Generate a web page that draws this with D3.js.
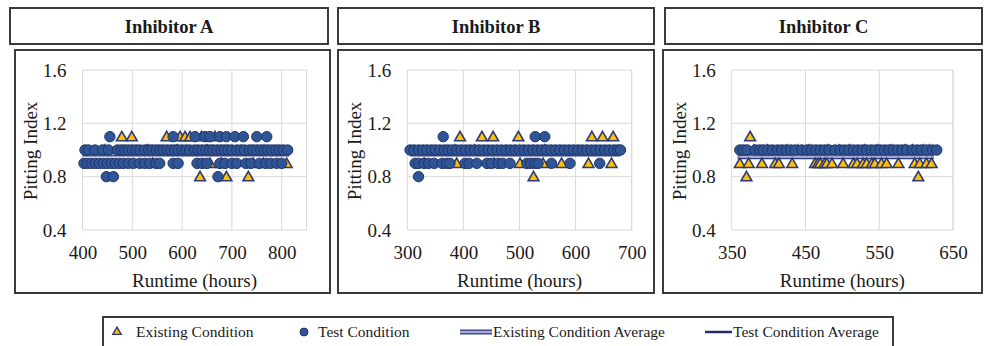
<!DOCTYPE html>
<html>
<head>
<meta charset="utf-8">
<script src="https://cdn.jsdelivr.net/npm/d3@7"></script>
<style>
  body { margin: 0; background: #fff; }
  text { font-family: 'Liberation Serif', 'Times New Roman', serif; fill: #1a1a1a; }
</style>
</head>
<body>
<svg width="990" height="346"></svg>
<script>
// ---- data ----
const titles = ['Inhibitor A', 'Inhibitor B', 'Inhibitor C'];
const yTicks = [0.4, 0.8, 1.2, 1.6];
const xTicksA = [400, 500, 600, 700, 800];
const xTicksB = [300, 400, 500, 600, 700];
const xTicksC = [350, 450, 550, 650];

// [runtime, pitting index]
const existingA = [
  [479,1.1],[499,1.1],[569,1.1],[596,1.1],[606,1.1],[616,1.1],[639,1.1],[666,1.1],
  [445,1.0],[530,1.0],[590,1.0],[650,1.0],
  [541,0.9],[656,0.9],[679,0.9],[743,0.9],[763,0.9],[810,0.9],
  [636,0.8],[689,0.8],[733,0.8]
];
const testA = [
  [455,1.1],[582,1.1],[626,1.1],[646,1.1],[656,1.1],[676,1.1],[689,1.1],[706,1.1],[723,1.1],[750,1.1],[770,1.1],
  [405,1.0],[412,1.0],[425,1.0],[440,1.0],[452,1.0],[470,1.0],[478,1.0],[485,1.0],[492,1.0],[500,1.0],
  [508,1.0],[515,1.0],[525,1.0],[533,1.0],[540,1.0],[548,1.0],[555,1.0],[562,1.0],[570,1.0],[578,1.0],
  [585,1.0],[592,1.0],[600,1.0],[608,1.0],[615,1.0],[625,1.0],[632,1.0],[640,1.0],[648,1.0],[655,1.0],
  [662,1.0],[670,1.0],[678,1.0],[685,1.0],[692,1.0],[700,1.0],[710,1.0],[718,1.0],[725,1.0],[735,1.0],
  [742,1.0],[750,1.0],[758,1.0],[765,1.0],[772,1.0],[780,1.0],[788,1.0],[795,1.0],[803,1.0],[812,1.0],
  [403,0.9],[410,0.9],[418,0.9],[426,0.9],[434,0.9],[442,0.9],[450,0.9],[458,0.9],[466,0.9],[474,0.9],
  [482,0.9],[492,0.9],[502,0.9],[515,0.9],[525,0.9],[535,0.9],[548,0.9],[555,0.9],[582,0.9],[592,0.9],
  [630,0.9],[640,0.9],[650,0.9],[676,0.9],[686,0.9],[700,0.9],[710,0.9],[728,0.9],[738,0.9],[755,0.9],
  [768,0.9],[778,0.9],[790,0.9],[800,0.9],
  [448,0.8],[462,0.8],[672,0.8]
];
const existingB = [
  [394,1.1],[433,1.1],[453,1.1],[498,1.1],[629,1.1],[648,1.1],[667,1.1],
  [385,1.0],[420,1.0],[545,1.0],
  [330,0.9],[388,0.9],[455,0.9],[501,0.9],[542,0.9],[575,0.9],[623,0.9],[664,0.9],
  [525,0.8]
];
const testB = [
  [364,1.1],[528,1.1],[545,1.1],
  [305,1.0],[312,1.0],[320,1.0],[328,1.0],[335,1.0],[343,1.0],[350,1.0],[358,1.0],[366,1.0],[373,1.0],
  [380,1.0],[388,1.0],[396,1.0],[404,1.0],[412,1.0],[420,1.0],[428,1.0],[436,1.0],[444,1.0],[452,1.0],
  [460,1.0],[468,1.0],[476,1.0],[484,1.0],[492,1.0],[500,1.0],[508,1.0],[516,1.0],[524,1.0],[532,1.0],
  [540,1.0],[548,1.0],[556,1.0],[564,1.0],[572,1.0],[580,1.0],[588,1.0],[596,1.0],[604,1.0],[612,1.0],
  [620,1.0],[628,1.0],[636,1.0],[644,1.0],[652,1.0],[660,1.0],[668,1.0],[675,1.0],[680,1.0],
  [314,0.9],[320,0.9],[330,0.9],[338,0.9],[348,0.9],[362,0.9],[370,0.9],[376,0.9],[403,0.9],[410,0.9],
  [424,0.9],[442,0.9],[450,0.9],[462,0.9],[470,0.9],[483,0.9],[513,0.9],[520,0.9],[527,0.9],[533,0.9],
  [557,0.9],[590,0.9],[643,0.9],
  [320,0.8]
];
const existingC = [
  [375,1.1],
  [380,1.0],[398,1.0],[425,1.0],[440,1.0],[455,1.0],[480,1.0],[495,1.0],[510,1.0],[530,1.0],
  [548,1.0],[566,1.0],[585,1.0],[595,1.0],[610,1.0],[618,1.0],
  [361,0.9],[373,0.9],[391,0.9],[409,0.9],[414,0.9],[432,0.9],[463,0.9],[467,0.9],[470,0.9],[476,0.9],
  [479,0.9],[486,0.9],[501,0.9],[515,0.9],[520,0.9],[528,0.9],[533,0.9],[540,0.9],[544,0.9],[553,0.9],
  [560,0.9],[576,0.9],[598,0.9],[605,0.9],[614,0.9],[621,0.9],
  [370,0.8],[603,0.8]
];
const testC = [
  [361,1.0],[366,1.0],[371,1.0],[382,1.0],[388,1.0],[393,1.0],[399,1.0],[405,1.0],[412,1.0],[418,1.0],
  [424,1.0],[430,1.0],[436,1.0],[445,1.0],[452,1.0],[458,1.0],[464,1.0],[470,1.0],[476,1.0],[482,1.0],
  [490,1.0],[497,1.0],[503,1.0],[509,1.0],[515,1.0],[521,1.0],[527,1.0],[533,1.0],[539,1.0],[545,1.0],
  [551,1.0],[557,1.0],[563,1.0],[569,1.0],[575,1.0],[581,1.0],[587,1.0],[595,1.0],[601,1.0],[607,1.0],
  [614,1.0],[622,1.0],[628,1.0]
];
// averages: [value, runtime start, runtime end]
const existingAvg = [[0.97, 400, 815], [0.97, 305, 680], [0.95, 358, 624]];
const testAvg = [[0.98, 400, 815], [0.99, 305, 680], [1.0, 361, 628]];
const legendLabels = ['Existing Condition', 'Test Condition', 'Existing Condition Average', 'Test Condition Average'];

// ---- layout ----
const svg = d3.select('svg');
const col = {
  circle: '#2f5597', circleStroke: '#1f3468',
  tri: '#ffc000', triStroke: '#2e3a78',
  exAvg: '#a3a8d6', exAvgEdge: '#2e3a78', testAvg: '#1f2f66',
  grid: '#d9d9d9', frame: '#3a3a3a'
};
const panels = [
  { title: titles[0], tbox: [10, 8, 318, 36], cbox: [15, 50, 315, 243], plot: [82.5, 306.6], domain: [400, 850], ticks: xTicksA, ex: existingA, te: testA },
  { title: titles[1], tbox: [338, 8, 316, 36], cbox: [338, 50, 316, 243], plot: [407.3, 631.7], domain: [300, 700], ticks: xTicksB, ex: existingB, te: testB },
  { title: titles[2], tbox: [665, 8, 317, 36], cbox: [663, 50, 319, 243], plot: [731.7, 953], domain: [350, 650], ticks: xTicksC, ex: existingC, te: testC }
];
const yTop = 70, yBottom = 230;
const fs = '19px';
const tri = d3.symbol().type(d3.symbolTriangle).size(50);

panels.forEach((p, i) => {
  svg.append('rect').attr('x', p.tbox[0]).attr('y', p.tbox[1]).attr('width', p.tbox[2]).attr('height', p.tbox[3])
    .attr('fill', '#fff').attr('stroke', col.frame).attr('stroke-width', 2);
  svg.append('text').attr('x', p.tbox[0] + p.tbox[2] / 2).attr('y', p.tbox[1] + 25)
    .attr('text-anchor', 'middle').style('font-weight', 'bold').style('font-size', '18.5px').text(p.title);
  svg.append('rect').attr('x', p.cbox[0]).attr('y', p.cbox[1]).attr('width', p.cbox[2]).attr('height', p.cbox[3])
    .attr('fill', '#fff').attr('stroke', col.frame).attr('stroke-width', 2);

  const x = d3.scaleLinear().domain(p.domain).range(p.plot);
  const y = d3.scaleLinear().domain([0.4, 1.6]).range([yBottom, yTop]);
  const g = svg.append('g');

  // grid
  g.selectAll('.vg').data(p.ticks.concat([p.domain[1]])).enter().append('line')
    .attr('x1', d => x(d)).attr('x2', d => x(d)).attr('y1', yTop).attr('y2', yBottom)
    .attr('stroke', col.grid).attr('stroke-width', 1);
  g.selectAll('.hg').data(yTicks).enter().append('line')
    .attr('x1', p.plot[0]).attr('x2', p.plot[1]).attr('y1', d => y(d)).attr('y2', d => y(d))
    .attr('stroke', col.grid).attr('stroke-width', 1);

  // axes
  const xAxis = g.append('g').attr('transform', `translate(0,${yBottom})`)
    .call(d3.axisBottom(x).tickValues(p.ticks).tickSize(0).tickPadding(16).tickFormat(d3.format('d')));
  xAxis.select('.domain').remove();
  xAxis.selectAll('text').style('font-size', fs).attr('fill', '#1a1a1a');
  const yAxis = g.append('g').attr('transform', `translate(${p.plot[0]},0)`)
    .call(d3.axisLeft(y).tickValues(yTicks).tickSize(0).tickPadding(16).tickFormat(d3.format('.1f')));
  yAxis.select('.domain').remove();
  yAxis.selectAll('text').style('font-size', fs).attr('fill', '#1a1a1a');

  svg.append('text').attr('x', (p.plot[0] + p.plot[1]) / 2).attr('y', 287)
    .attr('text-anchor', 'middle').style('font-size', fs).text('Runtime (hours)');
  svg.append('text').attr('transform', `translate(${p.plot[0] - 46},151) rotate(-90)`)
    .attr('text-anchor', 'middle').style('font-size', fs).text('Pitting Index');

  // averages (under the markers)
  const ea = existingAvg[i], ta = testAvg[i];
  g.append('line').attr('x1', x(ea[1])).attr('x2', x(ea[2])).attr('y1', y(ea[0])).attr('y2', y(ea[0]))
    .attr('stroke', col.exAvgEdge).attr('stroke-width', 5);
  g.append('line').attr('x1', x(ea[1])).attr('x2', x(ea[2])).attr('y1', y(ea[0])).attr('y2', y(ea[0]))
    .attr('stroke', col.exAvg).attr('stroke-width', 2.5);
  g.append('line').attr('x1', x(ta[1])).attr('x2', x(ta[2])).attr('y1', y(ta[0])).attr('y2', y(ta[0]))
    .attr('stroke', col.testAvg).attr('stroke-width', 2.5);

  // points
  g.selectAll('.tri').data(p.ex).enter().append('path')
    .attr('d', tri).attr('transform', d => `translate(${x(d[0])},${y(d[1]) + 1})`)
    .attr('fill', col.tri).attr('stroke', col.triStroke).attr('stroke-width', 1.6);
  g.selectAll('.dot').data(p.te).enter().append('circle')
    .attr('cx', d => x(d[0])).attr('cy', d => y(d[1])).attr('r', 5.2)
    .attr('fill', col.circle).attr('stroke', col.circleStroke).attr('stroke-width', 1);
});

// legend
svg.append('rect').attr('x', 103).attr('y', 317).attr('width', 790).attr('height', 36)
  .attr('fill', '#fff').attr('stroke', col.frame).attr('stroke-width', 2);
const ly = 332;
svg.append('path').attr('d', d3.symbol().type(d3.symbolTriangle).size(30))
  .attr('transform', `translate(117,${ly})`).attr('fill', col.tri).attr('stroke', col.triStroke).attr('stroke-width', 1.4);
svg.append('circle').attr('cx', 304).attr('cy', ly).attr('r', 4).attr('fill', col.circle).attr('stroke', col.circleStroke);
svg.append('line').attr('x1', 460).attr('x2', 492).attr('y1', ly).attr('y2', ly).attr('stroke', col.exAvgEdge).attr('stroke-width', 5);
svg.append('line').attr('x1', 460).attr('x2', 492).attr('y1', ly).attr('y2', ly).attr('stroke', col.exAvg).attr('stroke-width', 2.5);
svg.append('line').attr('x1', 705).attr('x2', 732).attr('y1', ly).attr('y2', ly).attr('stroke', col.testAvg).attr('stroke-width', 2.5);
const legX = [136, 318, 493, 733];
legendLabels.forEach((t, k) => {
  svg.append('text').attr('x', legX[k]).attr('y', ly + 5).style('font-size', '15.5px').text(t);
});
</script>
</body>
</html>
